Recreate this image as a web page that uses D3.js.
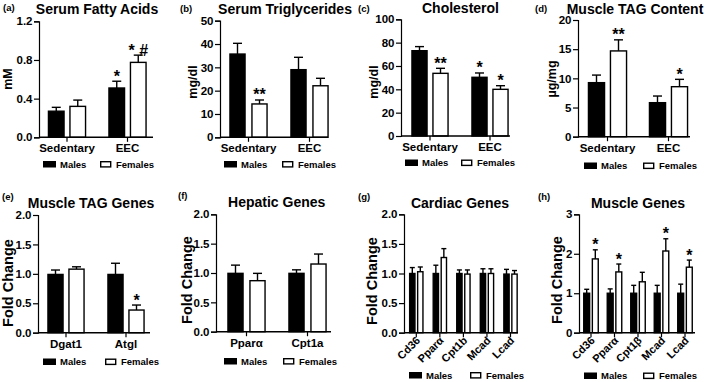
<!DOCTYPE html>
<html><head><meta charset="utf-8">
<script src="https://cdn.jsdelivr.net/npm/d3@7"></script>
<style>
html,body{margin:0;padding:0;background:#fff;}
svg{display:block;font-family:"Liberation Sans",Arial,sans-serif;font-weight:bold;}
</style></head><body>
<svg id="chart" width="709" height="382"></svg>
<script>
// ---------- DATA ----------
const aCategories = ["Sedentary", "EEC"];
const aMales = [0.27, 0.51];
const aMalesErr = [0.04, 0.07];
const aFemales = [0.32, 0.775];
const aFemalesErr = [0.065, 0.075];
const aMaleMarks = ["", "*"];
const aFemaleMarks = ["", "* #"];
const aTicks = [0, 0.4, 0.8, 1.2];

const bCategories = ["Sedentary", "EEC"];
const bMales = [35.7, 29.0];
const bMalesErr = [4.6, 5.3];
const bFemales = [14.3, 22.1];
const bFemalesErr = [1.7, 3.2];
const bMaleMarks = ["", ""];
const bFemaleMarks = ["**", ""];
const bTicks = [0, 10, 20, 30, 40, 50];

const cCategories = ["Sedentary", "EEC"];
const cMales = [73.1, 50.3];
const cMalesErr = [3.5, 3.7];
const cFemales = [53.7, 40.0];
const cFemalesErr = [4.3, 3.1];
const cMaleMarks = ["", "*"];
const cFemaleMarks = ["**", "*"];
const cTicks = [0, 20, 40, 60, 80, 100];

const dCategories = ["Sedentary", "EEC"];
const dMales = [9.26, 5.83];
const dMalesErr = [1.3, 1.14];
const dFemales = [14.7, 8.57];
const dFemalesErr = [1.9, 1.26];
const dMaleMarks = ["", ""];
const dFemaleMarks = ["**", "*"];
const dTicks = [0, 5, 10, 15, 20];

const eCategories = ["Dgat1", "Atgl"];
const eMales = [0.99, 0.99];
const eMalesErr = [0.075, 0.19];
const eFemales = [1.08, 0.385];
const eFemalesErr = [0.04, 0.085];
const eMaleMarks = ["", ""];
const eFemaleMarks = ["", "*"];
const eTicks = [0, 0.5, 1.0, 1.5, 2.0];

const fCategories = ["Pparα", "Cpt1a"];
const fMales = [0.994, 0.994];
const fMalesErr = [0.14, 0.06];
const fFemales = [0.869, 1.153];
const fFemalesErr = [0.125, 0.17];
const fMaleMarks = ["", ""];
const fFemaleMarks = ["", ""];
const fTicks = [0, 0.5, 1.0, 1.5, 2.0];

const gCategories = ["Cd36", "Pparα", "Cpt1b", "Mcad", "Lcad"];
const gMales = [1.0, 1.0, 1.0, 1.0, 0.99];
const gMalesErr = [0.10, 0.14, 0.06, 0.08, 0.08];
const gFemales = [1.03, 1.27, 0.99, 1.0, 0.99];
const gFemalesErr = [0.08, 0.15, 0.07, 0.08, 0.06];
const gMaleMarks = ["", "", "", "", ""];
const gFemaleMarks = ["", "", "", "", ""];
const gTicks = [0, 0.5, 1.0, 1.5, 2.0];

const hCategories = ["Cd36", "Pparα", "Cpt1β", "Mcad", "Lcad"];
const hMales = [1.0, 1.0, 1.0, 1.0, 1.0];
const hMalesErr = [0.10, 0.11, 0.20, 0.20, 0.23];
const hFemales = [1.87, 1.54, 1.29, 2.07, 1.66];
const hFemalesErr = [0.23, 0.20, 0.24, 0.31, 0.18];
const hMaleMarks = ["", "", "", "", ""];
const hFemaleMarks = ["*", "*", "", "*", "*"];
const hTicks = [0, 1, 2, 3];

const seriesNames = ["Males", "Females"];

// ---------- LAYOUT ----------
const panels = [
  {letter:"(a)", title:"Serum Fatty Acids", ylab:"mM", cats:aCategories, m:aMales, me:aMalesErr, f:aFemales, fe:aFemalesErr, mm:aMaleMarks, fm:aFemaleMarks, ticks:aTicks, fmt:".1f",
   ax:39, y0:137.3, yTop:21.3, xEnd:153, c0:67, c1:127.5, bw:17, off:10.75, cap:9, rot:false,
   tx:97, ty:13.5, lx:3, ly:11, ylx:12, yly:79, ylSize:12.5, mx:43, fx:100, legY:167.5, catY:151.5},
  {letter:"(b)", title:"Serum Triglycerides", ylab:"mg/dl", cats:bCategories, m:bMales, me:bMalesErr, f:bFemales, fe:bFemalesErr, mm:bMaleMarks, fm:bFemaleMarks, ticks:bTicks, fmt:"d",
   ax:220, y0:137.3, yTop:20.7, xEnd:328, c0:248.5, c1:309.5, bw:16.5, off:11, cap:9, rot:false,
   tx:285, ty:13.5, lx:180, ly:12, ylx:196.5, yly:82, ylSize:12.5, mx:224, fx:282, legY:167.5, catY:151.5},
  {letter:"(c)", title:"Cholesterol", ylab:"mg/dl", cats:cCategories, m:cMales, me:cMalesErr, f:cFemales, fe:cFemalesErr, mm:cMaleMarks, fm:cFemaleMarks, ticks:cTicks, fmt:"d",
   ax:401, y0:136, yTop:19.3, xEnd:510, c0:430, c1:490, bw:16.5, off:10.5, cap:9, rot:false,
   tx:460.5, ty:12.7, lx:358, ly:12, ylx:377.5, yly:82, ylSize:12.5, mx:405, fx:461, legY:166, catY:150.5},
  {letter:"(d)", title:"Muscle TAG Content", ylab:"µg/mg", cats:dCategories, m:dMales, me:dMalesErr, f:dFemales, fe:dFemalesErr, mm:dMaleMarks, fm:dFemaleMarks, ticks:dTicks, fmt:"d",
   ax:578, y0:136.7, yTop:20, xEnd:690, c0:607.5, c1:668.5, bw:17.5, off:11, cap:9, rot:false,
   tx:635, ty:13.5, lx:535, ly:12, ylx:555.5, yly:79, ylSize:12.5, mx:584, fx:643, legY:169, catY:151.5},
  {letter:"(e)", title:"Muscle TAG Genes", ylab:"Fold Change", cats:eCategories, m:eMales, me:eMalesErr, f:eFemales, fe:eFemalesErr, mm:eMaleMarks, fm:eFemaleMarks, ticks:eTicks, fmt:".1f",
   ax:38, y0:332.7, yTop:215, xEnd:150, c0:66, c1:126, bw:16.5, off:10.5, cap:9, rot:false,
   tx:91, ty:208.3, lx:2, ly:199.5, ylx:12.5, yly:283, ylSize:14.5, mx:43, fx:105, legY:365, catY:347.5},
  {letter:"(f)", title:"Hepatic Genes", ylab:"Fold Change", cats:fCategories, m:fMales, me:fMalesErr, f:fFemales, fe:fFemalesErr, mm:fMaleMarks, fm:fFemaleMarks, ticks:fTicks, fmt:".1f",
   ax:216, y0:331.7, yTop:214.3, xEnd:331, c0:246.5, c1:307.5, bw:16.5, off:11, cap:9, rot:false,
   tx:276.7, ty:207.3, lx:178, ly:199, ylx:192, yly:280, ylSize:14.5, mx:224, fx:283, legY:364.5, catY:347},
  {letter:"(g)", title:"Cardiac Genes", ylab:"Fold Change", cats:gCategories, m:gMales, me:gMalesErr, f:gFemales, fe:gFemalesErr, mm:gMaleMarks, fm:gFemaleMarks, ticks:gTicks, fmt:".1f",
   ax:404, y0:332.7, yTop:214.3, xEnd:518, c0:416.3, c1:510.5, bw:6.7, off:4, cap:5, rot:true,
   tx:460, ty:208.3, lx:358, ly:200, ylx:377, yly:281, ylSize:14.5, mx:409, fx:470, legY:378.5, catY:0},
  {letter:"(h)", title:"Muscle Genes", ylab:"Fold Change", cats:hCategories, m:hMales, me:hMalesErr, f:hFemales, fe:hFemalesErr, mm:hMaleMarks, fm:hFemaleMarks, ticks:hTicks, fmt:"d",
   ax:579, y0:332.7, yTop:214.3, xEnd:695, c0:591, c1:685, bw:7.3, off:4.3, cap:5, rot:true,
   tx:638, ty:208.3, lx:538, ly:200, ylx:562, yly:280, ylSize:14.5, mx:584, fx:643, legY:379, catY:0}
];

const svg = d3.select("#chart");

panels.forEach(p => {
  const g = svg.append("g");
  const ymax = p.ticks[p.ticks.length - 1];
  const y = d3.scaleLinear().domain([0, ymax]).range([p.y0, p.yTop]);
  const x = d3.scalePoint().domain(p.cats).range([p.c0, p.c1]);

  // title and letter
  g.append("text").attr("x", p.tx).attr("y", p.ty).attr("text-anchor", "middle")
    .attr("font-size", 14).text(p.title);
  g.append("text").attr("x", p.lx).attr("y", p.ly).attr("font-size", 9.5).text(p.letter);

  // y axis
  const yAxis = d3.axisLeft(y).tickValues(p.ticks).tickSize(5).tickPadding(1.5)
    .tickFormat(d3.format(p.fmt));
  const yg = g.append("g").attr("transform", `translate(${p.ax},0)`).call(yAxis);
  yg.select(".domain").attr("stroke", "#000").attr("stroke-width", 1.2);
  yg.selectAll(".tick line").attr("stroke", "#000").attr("stroke-width", 1.2);
  yg.selectAll(".tick text").attr("font-size", 11.5).attr("font-weight", "bold")
    .attr("font-family", '"Liberation Sans",Arial,sans-serif').attr("fill", "#000");

  // y label
  g.append("text").attr("transform", `translate(${p.ylx},${p.yly}) rotate(-90)`)
    .attr("text-anchor", "middle").attr("font-size", p.ylSize).text(p.ylab);

  // bars
  const bars = [];
  p.cats.forEach((c, i) => {
    bars.push({c, v: p.m[i], e: p.me[i], mark: p.mm[i], dx: -p.off, male: true});
    bars.push({c, v: p.f[i], e: p.fe[i], mark: p.fm[i], dx: p.off, male: false});
  });
  // error bars (drawn first, upward only)
  bars.forEach(b => {
    const cx = x(b.c) + b.dx;
    g.append("line").attr("x1", cx).attr("x2", cx).attr("y1", y(b.v)).attr("y2", y(b.v + b.e))
      .attr("stroke", "#000").attr("stroke-width", 1.4);
    g.append("line").attr("x1", cx - p.cap / 2).attr("x2", cx + p.cap / 2)
      .attr("y1", y(b.v + b.e)).attr("y2", y(b.v + b.e))
      .attr("stroke", "#000").attr("stroke-width", 1.4);
    if (b.mark) {
      g.append("text").attr("x", cx).attr("y", y(b.v + b.e) + 0.5).attr("text-anchor", "middle")
        .attr("font-size", 16).attr("font-weight", "bold").text(b.mark);
    }
  });
  bars.forEach(b => {
    const cx = x(b.c) + b.dx;
    g.append("rect").attr("x", cx - p.bw / 2 + 0.7).attr("width", p.bw - 1.4)
      .attr("y", y(b.v)).attr("height", y(0) - y(b.v))
      .attr("fill", b.male ? "#000" : "#fff").attr("stroke", "#000").attr("stroke-width", 1.4);
  });

  // x axis
  g.append("line").attr("x1", p.ax).attr("x2", p.xEnd).attr("y1", p.y0).attr("y2", p.y0)
    .attr("stroke", "#000").attr("stroke-width", 1.4);
  p.cats.forEach(c => {
    g.append("line").attr("x1", x(c)).attr("x2", x(c)).attr("y1", p.y0).attr("y2", p.y0 + 4.5)
      .attr("stroke", "#000").attr("stroke-width", 1.2);
    if (p.rot) {
      g.append("text").attr("transform", `translate(${x(c) + 4.5},${p.y0 + 8.5}) rotate(-45)`)
        .attr("text-anchor", "end").attr("font-size", 11).text(c);
    } else {
      g.append("text").attr("x", x(c)).attr("y", p.catY).attr("text-anchor", "middle")
        .attr("font-size", 11.5).text(c);
    }
  });

  // legend
  g.append("rect").attr("x", p.mx).attr("y", p.legY - 6.5).attr("width", 13).attr("height", 6.5)
    .attr("fill", "#000");
  g.append("text").attr("x", p.mx + 17).attr("y", p.legY).attr("font-size", 9.5).text(seriesNames[0]);
  g.append("rect").attr("x", p.fx + 0.7).attr("y", p.legY - 5.8).attr("width", 10).attr("height", 5.2)
    .attr("fill", "#fff").attr("stroke", "#000").attr("stroke-width", 1.4);
  g.append("text").attr("x", p.fx + 16).attr("y", p.legY).attr("font-size", 9.5).text(seriesNames[1]);
});
</script>
</body></html>
